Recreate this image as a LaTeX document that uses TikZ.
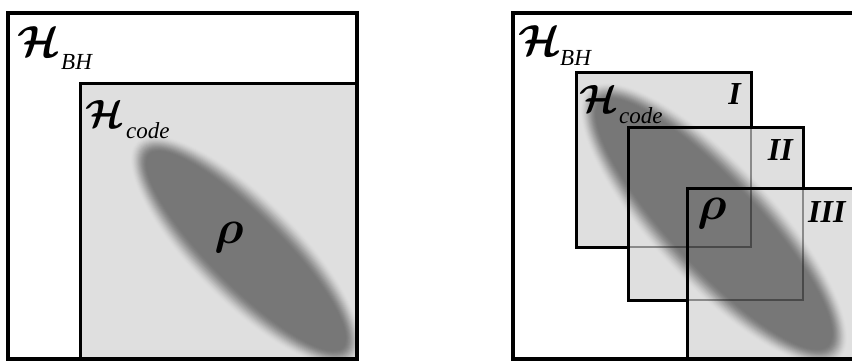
\documentclass[tikz,border=0pt]{standalone}
\usepackage{amsmath}
\usepackage{bm}
\usepackage{graphicx}
\usepackage{fontspec}
\setmainfont{Liberation Serif}
\definecolor{boxbg}{HTML}{DFDFDF}
\definecolor{ellc}{HTML}{777777}
\newcommand\softellipse[5]{%
  \begin{scope}[shift={(#1,#2)}, rotate=#3]
    \foreach \k in {0,...,20}{%
      \pgfmathsetmacro\blurt{\k/20}%
      \pgfmathtruncatemacro\blurm{100*(3*\blurt*\blurt-2*\blurt*\blurt*\blurt)}%
      \pgfmathsetmacro\blurx{#4+20-\k}%
      \pgfmathsetmacro\blury{#5+20-\k}%
      \fill[ellc!\blurm!boxbg] (0,0) ellipse [x radius=\blurx pt, y radius=\blury pt];
    }
  \end{scope}}
\newcommand\bigmath[2]{\scalebox{#1}{\fontsize{20}{20}\selectfont$#2$}}
\tikzset{
  bigH/.style={inner sep=0pt, anchor=base west},
  subtxt/.style={inner sep=0pt, anchor=base west, font=\fontsize{23}{23}\selectfont\itshape},
  numeral/.style={inner sep=0pt, font=\fontsize{32}{32}\selectfont\bfseries\itshape},
  rholabel/.style={inner sep=0pt, anchor=center},
  frame/.style={line width=3.2pt, draw=black},
  boxline/.style={line width=3pt, draw=black},
  hiddenline/.style={line width=2.6pt, draw=black, draw opacity=0.38},
}
\begin{document}
\begin{tikzpicture}[x=1pt, y=-1pt, line join=miter]
\useasboundingbox (0,0) rectangle (852,361);
\clip (0,0) rectangle (852,361);
\fill[white] (0,0) rectangle (852,361);

% ---------------- left panel ----------------
\coordinate (LoA) at (8,13);
\coordinate (LoB) at (357,359);
\coordinate (LiA) at (80,84);
\coordinate (LiB) at (357,359);
\fill[boxbg] (LiA) rectangle (LiB);
\begin{scope}
  \clip (LiA) rectangle (LiB);
  \softellipse{246}{251}{-45}{136}{34}
\end{scope}
\draw[frame] (LoA) rectangle (LoB);
\draw[boxline] (LiA) rectangle (LiB);
\node[bigH] (hbhL) at (17,57) {\bigmath{2.1}{\bm{\mathcal{H}}}};
\node[subtxt] (bhL) at (61,70) {BH};
\node[bigH] (hcodeL) at (85,128) {\bigmath{1.9}{\bm{\mathcal{H}}}};
\node[subtxt] (codeL) at (126,138) {code};
\node[rholabel] (rhoL) at (229,238) {\bigmath{2.3}{\bm{\rho}}};

% ---------------- right panel ----------------
\coordinate (RoA) at (513,13);
\coordinate (RoB) at (900,359);
\coordinate (IA) at (576,73);
\coordinate (IB) at (751,247);
\coordinate (IIA) at (628,127);
\coordinate (IIB) at (803,300);
\coordinate (IIIA) at (687,188);
\coordinate (IIIB) at (900,359);
\fill[boxbg] (IA) rectangle (IB);
\fill[boxbg] (IIA) rectangle (IIB);
\fill[boxbg] (IIIA) rectangle (IIIB);
\begin{scope}
  \clip (IA) rectangle (IB) (IIA) rectangle (IIB) (IIIA) rectangle (IIIB);
  \softellipse{714}{224}{-47}{166}{42}
\end{scope}
\draw[frame] (RoA) rectangle (RoB);
% box I
\draw[boxline] (IB |- IIA) -- (IB |- IA) -- (IA) -- (IA |- IB) -- (IIA |- IB);
\draw[hiddenline] (IB |- IIA) -- (IB) -- (IIA |- IB);
% box II
\draw[boxline] (IIB |- IIIA) -- (IIB |- IIA) -- (IIA) -- (IIA |- IIB) -- (IIIA |- IIB);
\draw[hiddenline] (IIB |- IIIA) -- (IIB) -- (IIIA |- IIB);
% box III
\draw[boxline] (IIIA) rectangle (IIIB);

\node[bigH] (hbhR) at (518,56) {\bigmath{2.1}{\bm{\mathcal{H}}}};
\node[subtxt] (bhR) at (560,66) {BH};
\node[bigH] (hcodeR) at (579,113) {\bigmath{1.9}{\bm{\mathcal{H}}}};
\node[subtxt] (codeR) at (619,124) {code};
\node[numeral, anchor=base east] (numI) at (741,105) {I};
\node[numeral, anchor=base east] (numII) at (793,160) {II};
\node[numeral, anchor=base west] (numIII) at (808,222) {III};
\node[rholabel] (rhoR) at (712,214) {\bigmath{2.3}{\bm{\rho}}};
\end{tikzpicture}
\end{document}
